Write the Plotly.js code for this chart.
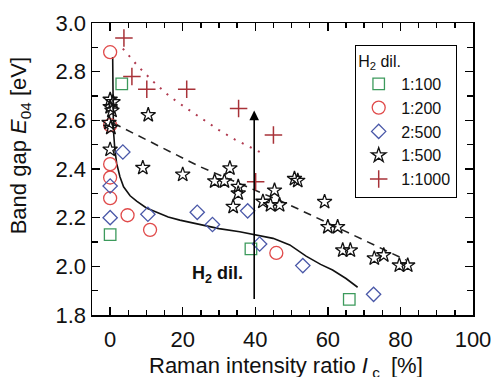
<!DOCTYPE html>
<html>
<head>
<meta charset="utf-8">
<script src="https://cdn.plot.ly/plotly-3.0.1.min.js"></script>
<style>html,body{margin:0;padding:0;background:#fff}#chart{width:495px;height:377px}</style>
</head>
<body>
<div id="chart"></div>
<script>
// 1:100
const sqX = [3.2, 0, 38.8, 65.9];
const sqY = [2.75, 2.13, 2.072, 1.864];
// 1:200
const circX = [0, 0, 0, 0, 0, 4.8, 11, 45.8];
const circY = [2.88, 2.58, 2.42, 2.365, 2.28, 2.21, 2.15, 2.055];
// 2:500
const diaX = [3.5, 0, 0, 10.4, 24, 28.2, 37.9, 41.2, 53.1, 72.6];
const diaY = [2.47, 2.33, 2.20, 2.214, 2.222, 2.172, 2.228, 2.092, 2.003, 1.885];
// 1:500
const starX = [0, 0.8, 0, 0.5, -0.3, 0.2, 0, 10.5, 9, 20, 28.8, 31.5, 33, 35.3, 35.3, 33.9, 45.3, 42.1, 44.2, 46.7, 50.8, 51.7, 59.1, 60, 62.7, 64.1, 66.2, 72.8, 75.4, 79.7, 82];
const starY = [2.685, 2.675, 2.655, 2.64, 2.59, 2.57, 2.48, 2.622, 2.405, 2.377, 2.35, 2.35, 2.403, 2.327, 2.30, 2.245, 2.312, 2.266, 2.252, 2.252, 2.36, 2.352, 2.265, 2.162, 2.162, 2.066, 2.066, 2.033, 2.046, 2.004, 2.004];
// 1:1000
const crossX = [3.8, 6, 10.1, 21.1, 35.4, 40.1, 45];
const crossY = [2.938, 2.78, 2.728, 2.728, 2.649, 2.348, 2.54];
// guide curves
const solidX = [0.7, 0.7, 0.9, 1.3, 1.8, 2.7, 3.7, 5.5, 7.3, 10, 12.8, 16, 19.2, 25, 30, 35.7, 40, 44.9, 49.5, 54, 58, 61.3, 65, 68.2];
const solidY = [2.86, 2.7, 2.56, 2.48, 2.423, 2.368, 2.327, 2.29, 2.268, 2.24, 2.222, 2.203, 2.19, 2.17, 2.155, 2.142, 2.13, 2.115, 2.088, 2.042, 2.008, 1.985, 1.95, 1.914];
const dashX = [0.9, 24.7, 49.5, 81.5];
const dashY = [2.588, 2.41, 2.252, 2.026];
const dotX = [3.5, 7.8, 11.9, 16.5, 21.1, 25.6, 30, 34.3, 38.9, 41.5];
const dotY = [2.895, 2.82, 2.759, 2.697, 2.649, 2.604, 2.56, 2.522, 2.487, 2.468];
// arrow
const arrowX = [39.7, 39.7];
const arrowY = [1.86, 2.64];
const xTicks = [0, 20, 40, 60, 80, 100];
const yTicks = [1.8, 2.0, 2.2, 2.4, 2.6, 2.8, 3.0];

const F = 'Liberation Sans, Arial, sans-serif';
const traces = [
  {x: solidX, y: solidY, mode: 'lines', line: {color: '#111', width: 1.6}, showlegend: false, hoverinfo: 'skip'},
  {x: dashX, y: dashY, mode: 'lines', line: {color: '#222', width: 1.6, dash: '8px,6px'}, showlegend: false, hoverinfo: 'skip'},
  {x: dotX, y: dotY, mode: 'lines', line: {color: '#b03a50', width: 2, dash: '2px,7px'}, showlegend: false, hoverinfo: 'skip'},
  {x: sqX, y: sqY, mode: 'markers', name: '1:100', marker: {symbol: 'square-open', size: 11.5, color: '#3c9a5c', line: {width: 1.3}}},
  {x: circX, y: circY, mode: 'markers', name: '1:200', marker: {symbol: 'circle-open', size: 13, color: '#e04a4a', line: {width: 1.3}}},
  {x: diaX, y: diaY, mode: 'markers', name: '2:500', marker: {symbol: 'diamond-open', size: 11, color: '#4a58a8', line: {width: 1.3}}},
  {x: starX, y: starY, mode: 'markers', name: '1:500', marker: {symbol: 'star-open', size: 11, color: '#111', line: {width: 1.3}}},
  {x: crossX, y: crossY, mode: 'markers', name: '1:1000', marker: {symbol: 'cross-thin-open', size: 12.5, color: '#a83238', line: {width: 1.5}}}
];
const axisCommon = {
  showline: true, linecolor: '#000', linewidth: 1.5, mirror: 'ticks',
  ticks: 'inside', tickcolor: '#000', tickwidth: 1.5, ticklen: 8,
  showgrid: false, zeroline: false, tickmode: 'array',
  tickfont: {family: F, size: 22, color: '#111'}
};
const layout = {
  width: 495, height: 377,
  margin: {l: 92, r: 22, t: 23, b: 62},
  paper_bgcolor: '#fff', plot_bgcolor: '#fff',
  font: {family: F, color: '#111'},
  xaxis: Object.assign({}, axisCommon, {
    range: [-5, 100], tickvals: xTicks, ticklabelstandoff: 4,
    minor: {dtick: 5, tick0: 0, ticks: 'inside', ticklen: 5, tickwidth: 1.3, tickcolor: '#000'}
  }),
  xaxis2: {
    overlaying: 'x', anchor: 'y', side: 'bottom', range: [-5, 100], showline: false,
    mirror: 'ticks', ticks: 'inside', tickcolor: '#000', tickwidth: 1.5, ticklen: 8,
    tickmode: 'linear', tick0: 0, dtick: 10, showticklabels: false, showgrid: false, zeroline: false
  },
  yaxis: Object.assign({}, axisCommon, {
    range: [1.8, 3.0], tickvals: yTicks, tickformat: '.1f',
    minor: {dtick: 0.1, tick0: 1.8, ticks: 'inside', ticklen: 6, tickwidth: 1.3, tickcolor: '#000'}
  }),
  legend: {
    x: 0.958, y: 0.925, xanchor: 'right', yanchor: 'top',
    bordercolor: '#000', borderwidth: 1.2, bgcolor: '#fff',
    font: {family: F, size: 16, color: '#111'},
    title: {text: 'H<sub>2</sub> dil.', font: {family: F, size: 16, color: '#111'}},
    tracegroupgap: 0, itemwidth: 35
  },
  annotations: [
    {x: arrowX[1], y: arrowY[1], ax: arrowX[0], ay: arrowY[0], xref: 'x', yref: 'y', axref: 'x', ayref: 'y',
     showarrow: true, arrowhead: 2, arrowsize: 1.2, arrowwidth: 1.6, arrowcolor: '#000', text: ''},
    {x: 37.3, y: 1.965, xref: 'x', yref: 'y', xanchor: 'right', yanchor: 'middle', showarrow: false,
     text: '<b>H<sub>2</sub> dil.</b>', font: {family: F, size: 18, color: '#111'}},
    {x: -0.188, y: 0.579, xref: 'paper', yref: 'paper', xanchor: 'center', yanchor: 'middle', showarrow: false,
     textangle: -90, text: 'Band gap <i>E</i><sub>04</sub> [eV]', font: {family: F, size: 22, color: '#111'}},
    {x: 0.508, y: -0.178, xref: 'paper', yref: 'paper', xanchor: 'center', yanchor: 'middle', showarrow: false,
     text: 'Raman intensity ratio <i>I</i>\u2009<sub>c</sub>\u2002[%]', font: {family: F, size: 22, color: '#111'}}
  ]
};
Plotly.newPlot('chart', traces, layout, {displayModeBar: false, staticPlot: true});
</script>
</body>
</html>
